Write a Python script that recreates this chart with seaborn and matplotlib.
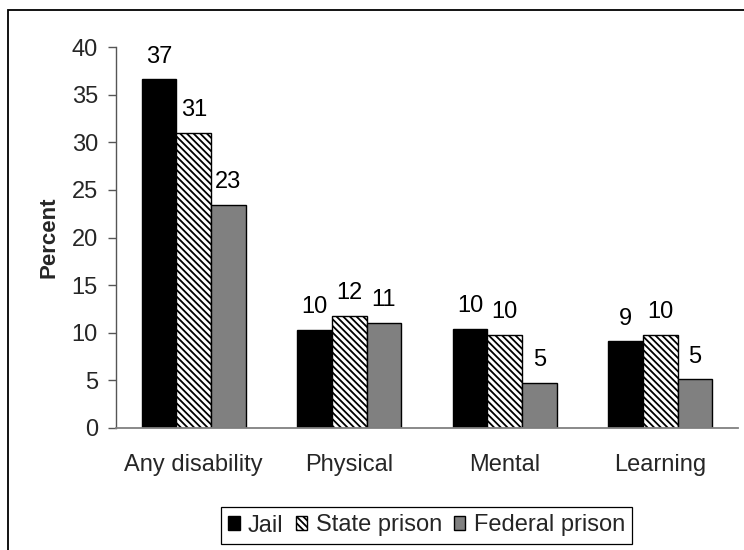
import matplotlib
matplotlib.use("Agg")
import matplotlib.pyplot as plt
from matplotlib.patches import Rectangle
import pandas as pd
import seaborn as sns

# Share of inmates reporting a disability, by facility type
categories = ["Any disability", "Physical", "Mental", "Learning"]
facilities = ["Jail", "State prison", "Federal prison"]
jail = [36.6, 10.3, 10.4, 9.1]
state_prison = [31.0, 11.8, 9.8, 9.8]
federal_prison = [23.4, 11.0, 4.7, 5.1]
y_ticks = [0, 5, 10, 15, 20, 25, 30, 35, 40]

rows = []
for name, values in zip(facilities, [jail, state_prison, federal_prison]):
    for cat, v in zip(categories, values):
        rows.append({"category": cat, "facility": name, "percent": v})
df = pd.DataFrame(rows)

sns.set_theme(style="white")
plt.rcParams["font.family"] = ["Liberation Sans", "DejaVu Sans"]
plt.rcParams["hatch.linewidth"] = 1.3
plt.rcParams["hatch.color"] = "black"

fig = plt.figure(figsize=(7.44, 5.5), dpi=100)
ax = fig.add_axes([116 / 744, 1 - 428 / 550, (738 - 116) / 744, (428 - 47) / 550])

sns.barplot(
    data=df, x="category", y="percent", hue="facility",
    order=categories, hue_order=facilities,
    palette=["#000000", "#ffffff", "#808080"],
    width=0.666, gap=0, saturation=1,
    edgecolor="black", linewidth=1.0, legend=False, ax=ax,
)

# Diagonal stripes for the state prison bars
for patch in ax.containers[1]:
    patch.set_hatch("\\\\\\\\\\")
    patch.set_facecolor("white")

fs = 17
for container, values in zip(ax.containers, [jail, state_prison, federal_prison]):
    ax.bar_label(container, labels=[f"{v:.0f}" for v in values],
                 padding=8.5, fontsize=fs, color="black")

ax.set_ylim(0, 40)
ax.set_yticks(y_ticks)
ax.set_xlabel("")
ax.set_ylabel("Percent", fontsize=fs - 1, fontweight="bold", labelpad=9)
ax.tick_params(axis="y", labelsize=fs, length=6, width=1, color="#555555",
               direction="out", left=True, pad=7)
ax.tick_params(axis="x", labelsize=fs, length=0, pad=19)

for side in ["top", "right"]:
    ax.spines[side].set_visible(False)
ax.spines["left"].set_color("#555555")
ax.spines["left"].set_linewidth(1.0)
ax.spines["bottom"].set_color("#808080")
ax.spines["bottom"].set_linewidth(1.3)

handles = [c[0] for c in ax.containers]
leg = ax.legend(
    handles=handles, labels=facilities, ncol=3, loc="center",
    bbox_to_anchor=(426.5 / 744, 1 - 525.5 / 550), bbox_transform=fig.transFigure,
    fontsize=fs, frameon=True, fancybox=False, framealpha=1,
    edgecolor="black", handlelength=0.5, handleheight=0.5,
    handletextpad=0.35, columnspacing=0.5, borderpad=0.3, borderaxespad=0,
)
leg.get_frame().set_linewidth(0.9)

# Chart-area border
fig.add_artist(Rectangle((8 / 744, -0.2), 2.0, 1.2 - 10 / 550,
                         transform=fig.transFigure, fill=False,
                         edgecolor="black", linewidth=1.3))

fig.savefig("out.png", dpi=100)
